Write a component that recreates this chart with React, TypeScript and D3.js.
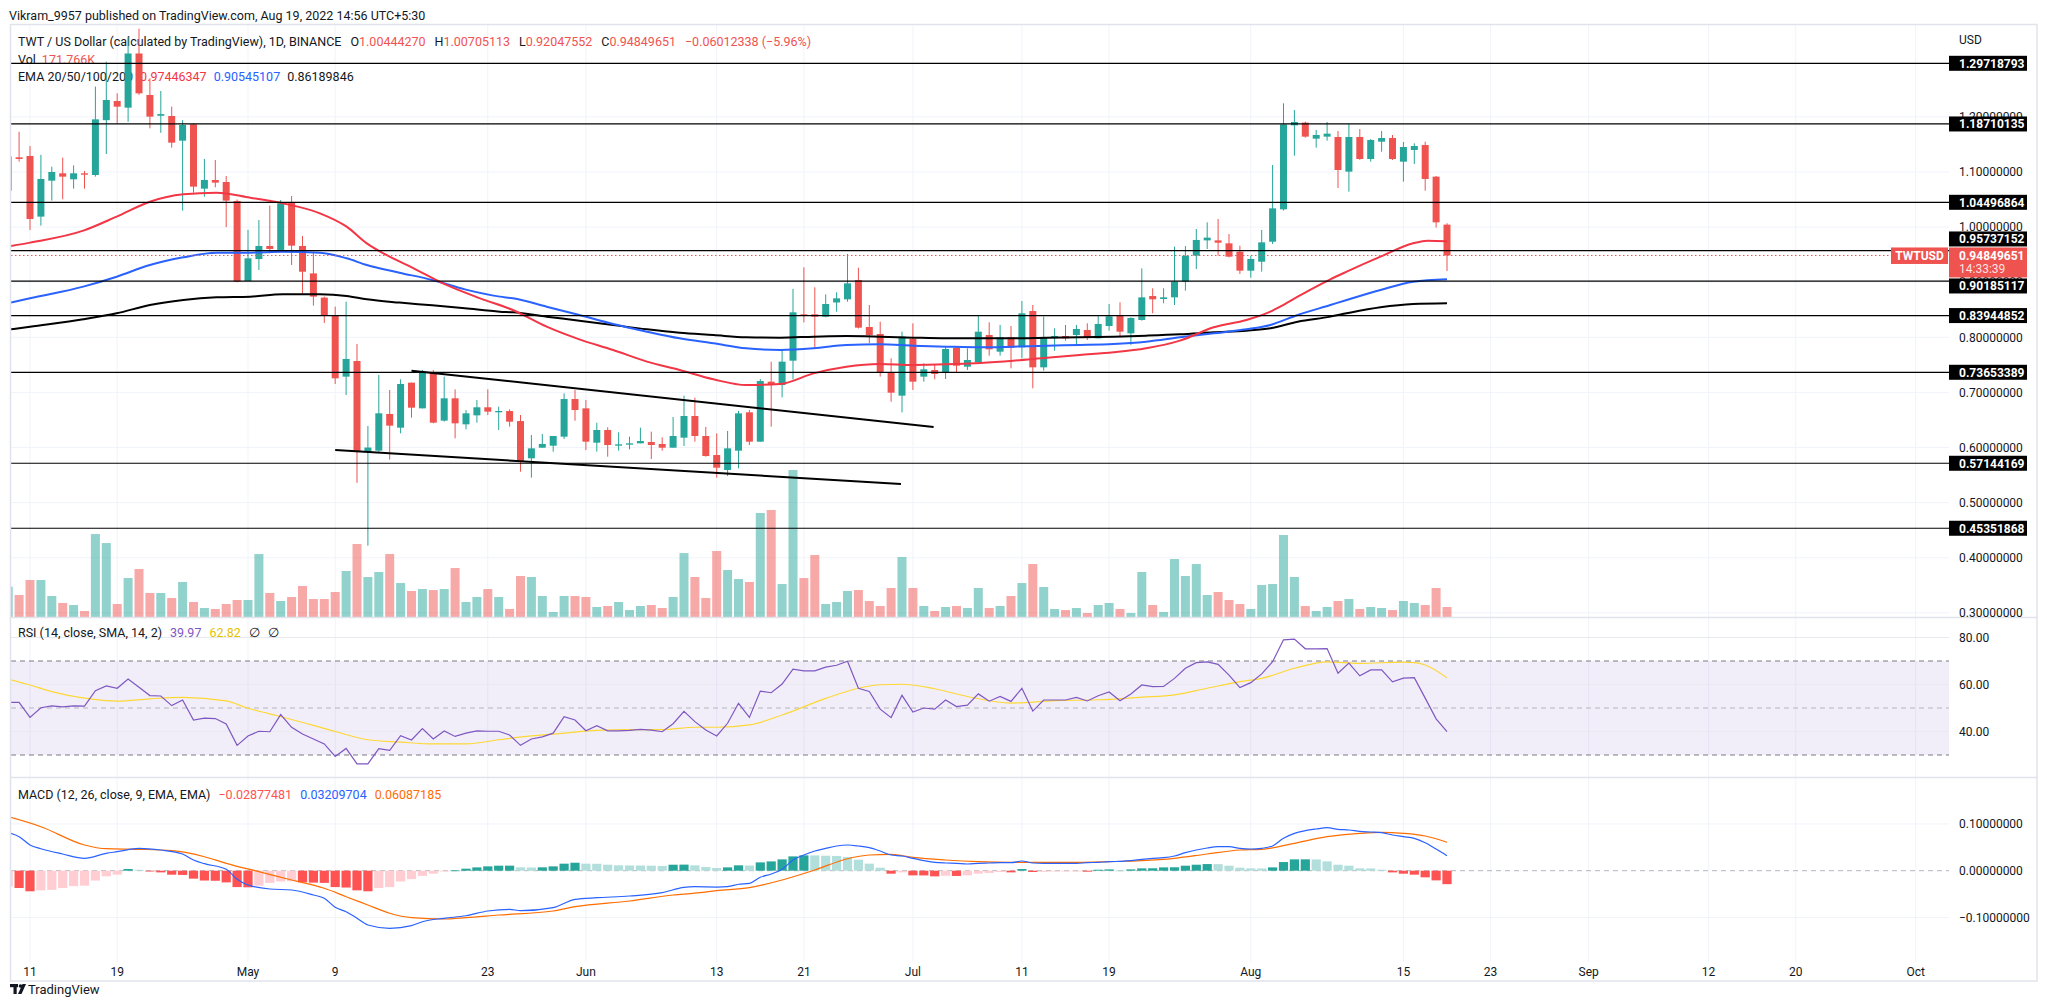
import React from "react";
import * as d3 from "d3";

// ---------------- DATA ----------------
// daily candles TWT/USD, first candle 2022-04-09, last 2022-08-19
const firstCandleDate = "2022-04-09";
const candleOpen = [
  1.066, 1.1266, 1.129, 1.019, 1.0842, 1.0976, 1.0867, 1.0976, 1.0945, 1.194,
  1.2288, 1.2167, 1.315, 1.2397, 1.202, 1.2016, 1.1568, 1.1865, 1.0697, 1.0855,
  1.0818, 1.0474, 0.9022, 0.9421, 0.9657, 0.9585, 1.045, 0.9657, 0.916, 0.872,
  0.84, 0.7286, 0.757, 0.592, 0.5943, 0.6609, 0.636, 0.7177, 0.6711, 0.7359,
  0.6488, 0.6893, 0.6421, 0.6584, 0.673, 0.6639, 0.6662, 0.648, 0.5804, 0.5997,
  0.6033, 0.6197, 0.688, 0.6711, 0.6088, 0.6318, 0.6034, 0.6052, 0.6076, 0.61,
  0.6064, 0.5997, 0.6179, 0.6572, 0.6209, 0.5864, 0.5592, 0.5943, 0.6639, 0.6106,
  0.7195, 0.7134, 0.7576, 0.8417, 0.8417, 0.8375, 0.8632, 0.8689, 0.904, 0.8187,
  0.806, 0.7364, 0.6941, 0.7969, 0.7286, 0.7407, 0.7358, 0.7812, 0.7467, 0.7546,
  0.8042, 0.7739, 0.8, 0.7818, 0.8477, 0.7455, 0.7999, 0.8024, 0.8042, 0.8133,
  0.7981, 0.8205, 0.8399, 0.8072, 0.8314, 0.8749, 0.8695, 0.8725, 0.901, 0.9481,
  0.9759, 0.9759, 0.9705, 0.9554, 0.9209, 0.9372, 0.9735, 1.0322, 1.1846, 1.1895,
  1.1604, 1.1641, 1.1635, 1.1006, 1.1635, 1.1235, 1.155, 1.1616, 1.1187, 1.1399,
  1.1489, 1.0915, 1.0044427,
];
const candleHigh = [
  1.13, 1.173, 1.147, 1.131, 1.1096, 1.126, 1.112, 1.1018, 1.255, 1.3,
  1.2427, 1.345, 1.36, 1.27, 1.247, 1.2185, 1.194, 1.1883, 1.1236, 1.1217,
  1.0927, 1.05, 0.995, 1.0129, 1.039, 1.0492, 1.0564, 0.9839, 0.9554, 0.874,
  0.8556, 0.8647, 0.788, 0.639, 0.7316, 0.7044, 0.7238, 0.7177, 0.7407, 0.7407,
  0.7286, 0.7056, 0.6681, 0.6862, 0.7056, 0.6742, 0.6693, 0.659, 0.6227, 0.6246,
  0.6209, 0.6983, 0.7044, 0.6862, 0.645, 0.6367, 0.6276, 0.6197, 0.636, 0.6288,
  0.6185, 0.6554, 0.6941, 0.6905, 0.6373, 0.6257, 0.63, 0.6663, 0.6681, 0.7243,
  0.7558, 0.777, 0.8877, 0.927, 0.8907, 0.878, 0.8816, 0.9512, 0.9263, 0.8586,
  0.8284, 0.7618, 0.8102, 0.8254, 0.7528, 0.7497, 0.783, 0.783, 0.78, 0.8387,
  0.8272, 0.8224, 0.8205, 0.8659, 0.8586, 0.8375, 0.8163, 0.8224, 0.8224, 0.8254,
  0.8387, 0.8604, 0.8635, 0.8363, 0.9251, 0.8889, 0.8889, 0.9645, 0.9657, 0.9965,
  1.0086, 1.0147, 0.9874, 0.9663, 0.9481, 0.9947, 1.1127, 1.2246, 1.2125, 1.1913,
  1.1762, 1.1907, 1.1744, 1.187, 1.178, 1.1598, 1.1744, 1.1671, 1.1544, 1.152,
  1.155, 1.0927, 1.00705113,
];
const candleLow = [
  1.06, 1.1187, 0.9947, 1.0026, 1.048, 1.0504, 1.0697, 1.0697, 1.0915, 1.1326,
  1.1883, 1.191, 1.24, 1.1792, 1.171, 1.1441, 1.0298, 1.0625, 1.0552, 1.0721,
  1.0, 0.9, 0.9022, 0.9222, 0.9524, 0.9554, 0.9312, 0.8798, 0.8574, 0.826,
  0.7153, 0.6953, 0.536, 0.422, 0.59, 0.578, 0.6258, 0.6542, 0.671, 0.6439,
  0.647, 0.6167, 0.633, 0.6451, 0.659, 0.6318, 0.6379, 0.5562, 0.5453, 0.5997,
  0.5925, 0.6155, 0.6487, 0.5955, 0.5925, 0.5834, 0.5943, 0.5967, 0.6076, 0.5792,
  0.5943, 0.5997, 0.6028, 0.6106, 0.5835, 0.5453, 0.5483, 0.5622, 0.6046, 0.6106,
  0.6378, 0.6911, 0.7237, 0.8272, 0.78, 0.8362, 0.8465, 0.8647, 0.816, 0.7891,
  0.7286, 0.6832, 0.6638, 0.7044, 0.7195, 0.7238, 0.7243, 0.7358, 0.7407, 0.7528,
  0.7667, 0.7667, 0.7437, 0.7618, 0.7074, 0.7395, 0.7757, 0.7939, 0.786, 0.7951,
  0.7981, 0.812, 0.8, 0.786, 0.8302, 0.8435, 0.8617, 0.8586, 0.8846, 0.9239,
  0.9602, 0.9481, 0.945, 0.9149, 0.9082, 0.9191, 0.9693, 1.03, 1.1296, 1.1623,
  1.1441, 1.1568, 1.0709, 1.0643, 1.122, 1.1187, 1.1368, 1.1217, 1.0824, 1.1145,
  1.0661, 0.999, 0.92047552,
];
const candleClose = [
  1.128, 1.1236, 1.0147, 1.0873, 1.1, 1.0915, 1.0976, 1.0951, 1.1955, 1.2306,
  1.2185, 1.315, 1.2427, 1.2004, 1.205, 1.1532, 1.1853, 1.0734, 1.0855, 1.0806,
  1.048, 0.901, 0.9433, 0.9657, 0.9603, 1.0431, 0.9663, 0.919, 0.8738, 0.8387,
  0.7256, 0.7607, 0.5925, 0.6, 0.6621, 0.6397, 0.7153, 0.6723, 0.7359, 0.6451,
  0.6893, 0.6439, 0.6621, 0.673, 0.6651, 0.6663, 0.6469, 0.5755, 0.5985, 0.6064,
  0.6209, 0.688, 0.6681, 0.6106, 0.6318, 0.6046, 0.6058, 0.6076, 0.6118, 0.6046,
  0.5997, 0.6209, 0.6572, 0.6209, 0.5846, 0.5634, 0.5985, 0.662, 0.6106, 0.7207,
  0.7134, 0.7558, 0.8453, 0.8386, 0.8375, 0.8604, 0.8707, 0.8979, 0.8175, 0.8042,
  0.7358, 0.6995, 0.8012, 0.7195, 0.7419, 0.7334, 0.7788, 0.7485, 0.7588, 0.8102,
  0.7782, 0.8, 0.7812, 0.8435, 0.7455, 0.8, 0.8024, 0.7981, 0.8151, 0.7999,
  0.8242, 0.8381, 0.8102, 0.8351, 0.8725, 0.8689, 0.8725, 0.901, 0.9481, 0.9766,
  0.9808, 0.9717, 0.9463, 0.9209, 0.9421, 0.9723, 1.034, 1.1864, 1.1907, 1.1641,
  1.1671, 1.1695, 1.1036, 1.1635, 1.1235, 1.158, 1.1616, 1.1235, 1.1453, 1.1471,
  1.0873, 1.00861989, 0.94849651,
];
// volume in thousands
const volumeK = [
  521, 378, 636, 636, 361, 241, 206, 103, 1427, 1272,
  223, 670, 825, 413, 413, 327, 602, 258, 155, 138,
  223, 292, 292, 1083, 413, 275, 344, 533, 309, 309,
  430, 791, 1255, 688, 774, 1083, 584, 447, 481, 464,
  481, 842, 258, 344, 481, 344, 138, 705, 688, 361,
  86, 361, 361, 344, 172, 189, 258, 120, 189, 206,
  155, 344, 1100, 688, 327, 1135, 808, 653, 602, 1789,
  1840, 567, 2528, 670, 1066, 223, 258, 447, 464, 275,
  189, 499, 1031, 499, 189, 103, 172, 189, 155, 499,
  155, 189, 361, 584, 911, 516, 138, 120, 155, 69,
  206, 241, 138, 69, 774, 206, 86, 997, 705, 911,
  378, 430, 292, 223, 138, 550, 567, 1410, 688, 189,
  103, 172, 275, 309, 138, 172, 155, 120, 275, 241,
  206, 499, 171.766,
];

// EMA lines: day offsets counted from 2022-04-11
const emaBaseDate = "2022-04-11";
const ema20Days = [-1.74, 0, 4.89, 7.95, 11, 14.07, 17.1, 20.2, 23.2, 26.6, 29.05, 30.9, 32.7, 35.2, 38.2, 41.3, 44.3, 47.4, 50.4, 53.5, 56.6, 59.6, 62.7, 65.7, 68.8, 71.9, 74.9, 78, 81, 84.1, 87.2, 90.2, 93.3, 96.3, 99.4, 102.4, 105.5, 108.6, 111.6, 113.8, 114.7, 116.3, 117.7, 119.3, 120.8, 123.9, 126.9, 128.2, 130];
const ema20Vals = [0.9657, 0.9718, 0.9935, 1.019, 1.046, 1.0594, 1.0625, 1.0534, 1.0431, 1.025, 1.0008, 0.9705, 0.9494, 0.9252, 0.895, 0.8707, 0.8495, 0.8193, 0.7963, 0.777, 0.7558, 0.7407, 0.7238, 0.7134, 0.7153, 0.7346, 0.7467, 0.7516, 0.7497, 0.7509, 0.7535, 0.7576, 0.763, 0.7679, 0.7727, 0.78, 0.7939, 0.8181, 0.8314, 0.8465, 0.8556, 0.8737, 0.8889, 0.9052, 0.9191, 0.9463, 0.9705, 0.9754, 0.97446347];
const ema50Days = [-1.74, 0, 4.89, 7.95, 11, 14.07, 17.1, 20.2, 23.2, 26.6, 29.05, 30.9, 33.9, 36.9, 39.9, 43.1, 44.3, 47.4, 50.4, 53.5, 56.6, 59.6, 62.7, 65.7, 68.8, 71.9, 74.9, 78, 81, 84.1, 87.2, 90.2, 93.3, 96.3, 99.4, 102.4, 105.5, 108.6, 111.6, 113.8, 116.3, 119.3, 120.8, 123.9, 126.9, 130];
const ema50Vals = [0.863, 0.8708, 0.892, 0.91, 0.9312, 0.9451, 0.9536, 0.9536, 0.9554, 0.9536, 0.9433, 0.9312, 0.9173, 0.904, 0.887, 0.8738, 0.8707, 0.8556, 0.8405, 0.8241, 0.8102, 0.7981, 0.7891, 0.78, 0.777, 0.78, 0.786, 0.7872, 0.7848, 0.783, 0.7818, 0.783, 0.7848, 0.786, 0.7878, 0.7921, 0.7999, 0.8072, 0.8145, 0.8224, 0.8405, 0.8586, 0.8677, 0.8858, 0.901, 0.90545107];
const ema100Days = [-1.74, 0, 4.89, 7.95, 11, 14.07, 17.1, 20.2, 23.2, 26.6, 29.05, 30.9, 33.9, 36.9, 39.9, 43.1, 44.3, 47.4, 50.4, 53.5, 56.6, 59.6, 62.7, 65.7, 68.8, 71.9, 74.9, 78, 81, 84.1, 87.2, 90.2, 93.3, 96.3, 99.4, 102.4, 105.5, 108.6, 111.6, 113.8, 116.3, 119.3, 120.8, 123.9, 126.9, 130];
const ema100Vals = [0.8145, 0.8193, 0.8326, 0.8435, 0.8587, 0.8677, 0.8725, 0.8738, 0.878, 0.878, 0.875, 0.869, 0.863, 0.858, 0.8526, 0.8465, 0.8453, 0.8375, 0.8302, 0.8223, 0.8145, 0.8084, 0.8042, 0.8, 0.7994, 0.8012, 0.8024, 0.8012, 0.7994, 0.7981, 0.7981, 0.7981, 0.7993, 0.7999, 0.8012, 0.803, 0.8054, 0.809, 0.812, 0.8163, 0.8284, 0.8375, 0.8435, 0.8544, 0.8604, 0.86189846];

// drawn levels and trend lines
const supportLevels = [1.29718793, 1.18710135, 1.04496864, 0.95737152, 0.90185117, 0.83944852, 0.73653389, 0.57144169, 0.45351868];
const trendUpperDays = [35, 82.9];
const trendUpperPrices = [0.7394, 0.6372];
const trendLowerDays = [28, 79.9];
const trendLowerPrices = [0.5955, 0.5338];

// RSI (one per candle) and its SMA (sparse points, day offsets)
const rsiValues = [
  52.4, 52.4, 46.0, 50.1, 50.9, 50.5, 50.9, 50.8, 57.4, 59.4,
  58.4, 62.3, 58.8, 55.3, 55.1, 51.0, 53.4, 44.9, 45.7, 45.5,
  43.2, 34.1, 38.1, 40.1, 39.9, 47.2, 41.8, 38.9, 36.8, 34.7,
  29.4, 32.8, 26.2, 26.2, 32.7, 32.0, 38.2, 36.4, 41.2, 36.8,
  40.2, 37.9, 39.3, 40.3, 40.1, 40.1, 38.5, 34.1, 36.8, 37.7,
  39.3, 46.3, 44.9, 40.3, 42.5, 40.3, 40.3, 40.5, 40.9, 40.6,
  39.9, 43.3, 48.6, 44.2, 40.6, 38.1, 43.5, 52.0, 46.0, 57.2,
  56.5, 60.2, 66.5, 65.8, 65.8, 67.4, 68.2, 69.9, 58.4, 57.0,
  49.5, 45.9, 55.4, 48.3, 50.0, 49.5, 53.4, 50.6, 51.2, 56.0,
  52.9, 54.9, 52.8, 58.4, 48.7, 53.4, 53.4, 53.4, 54.5, 53.0,
  55.2, 56.8, 53.1, 56.0, 59.8, 59.1, 59.2, 62.6, 66.9, 69.3,
  69.6, 68.6, 64.0, 58.7, 60.8, 64.5, 69.7, 79.0, 79.3, 75.2,
  75.2, 75.3, 64.8, 69.1, 63.7, 66.2, 66.2, 61.1, 62.7, 62.9,
  54.2, 45.4, 39.97,
];
const rsiSmaDays = [-2, 0, 2, 5, 8, 11, 14, 18, 20, 22, 26, 28, 31, 34, 37, 40, 43, 46, 49, 52, 55, 58, 61, 63, 66, 69, 73, 76, 78, 80, 83, 86, 90, 94, 98, 102, 105, 108, 111, 113, 116, 119, 122, 126, 127, 128, 130];
const rsiSmaVals = [62.3, 59.8, 57.0, 54.2, 52.9, 53.9, 54.5, 53.0, 49.9, 47.5, 42.6, 40.0, 36.5, 35.5, 34.7, 34.7, 36.5, 38.1, 39.3, 40.5, 40.8, 40.8, 41.8, 41.8, 42.8, 47.0, 54.1, 58.4, 59.9, 60.1, 58.2, 54.9, 52.1, 53.1, 53.5, 54.6, 55.6, 58.4, 61.2, 62.6, 66.9, 69.6, 69.0, 69.5, 69.3, 68.3, 62.82];

// MACD
const macdHist = [
  -0.034, -0.037, -0.044, -0.042, -0.041, -0.037, -0.033, -0.032, -0.021, -0.012,
  -0.0085, 0.0036, 0.002, -0.0014, -0.0036, -0.0085, -0.009, -0.017, -0.021, -0.0215,
  -0.025, -0.035, -0.0355, -0.032, -0.026, -0.023, -0.0225, -0.025, -0.0255, -0.026,
  -0.035, -0.036, -0.042, -0.044, -0.037, -0.035, -0.023, -0.018, -0.011, -0.0064,
  -0.0014, 0.0007, 0.0043, 0.0071, 0.0093, 0.0107, 0.0108, 0.0071, 0.0068, 0.0072,
  0.0093, 0.015, 0.017, 0.015, 0.0148, 0.0128, 0.0114, 0.0112, 0.011, 0.0107,
  0.01, 0.0128, 0.013, 0.0114, 0.0078, 0.0057, 0.0071, 0.0115, 0.011, 0.0178,
  0.0199, 0.0242, 0.0306, 0.0328, 0.0327, 0.032, 0.0315, 0.0292, 0.0235, 0.015,
  0.0064, -0.0064, -0.0036, -0.01, -0.0101, -0.0121, -0.0107, -0.0112, -0.01, -0.0064,
  -0.005, -0.0028, -0.0036, 0.0036, -0.0028, -0.0025, -0.0014, -0.0007, -0.0005, -0.0021,
  0.0021, 0.0028, 0.0005, 0.0028, 0.005, 0.0052, 0.0071, 0.0073, 0.0107, 0.0128,
  0.0142, 0.014, 0.0107, 0.0064, 0.005, 0.0048, 0.0071, 0.0185, 0.0242, 0.0243,
  0.024, 0.0199, 0.0128, 0.0107, 0.005, 0.0048, 0.0021, -0.0036, -0.0064, -0.0085,
  -0.0142, -0.0207, -0.02877481,
];
const macdDays = [-2, -1, 0, 1, 3, 5, 7, 8, 10, 12, 14, 15, 16, 18, 19, 20, 22, 24, 26, 27, 28, 29, 30, 31, 33, 35, 36, 38, 40, 42, 44, 45, 48, 50, 52, 55, 58, 60, 61, 63, 64, 65, 66, 67, 68, 69, 70, 71, 72, 73, 74, 75, 76, 77, 78, 79, 80, 81, 82, 83, 84, 85, 86, 87, 88, 89, 90, 91, 92, 93, 94, 95, 96, 97, 98, 99, 100, 101, 102, 103, 104, 105, 106, 107, 108, 109, 110, 111, 112, 113, 114, 115, 116, 117, 118, 119, 120, 121, 122, 123, 124, 125, 126, 127, 128, 129, 130];
const macdVals = [0.0812, 0.0727, 0.055, 0.047, 0.0357, 0.0265, 0.0372, 0.0406, 0.0478, 0.0442, 0.0357, 0.0229, 0.015, 0.003, -0.0184, -0.0306, -0.0391, -0.0412, -0.0519, -0.059, -0.0782, -0.0876, -0.1017, -0.116, -0.1231, -0.1175, -0.109, -0.1017, -0.0962, -0.0861, -0.0825, -0.0855, -0.079, -0.0611, -0.0577, -0.0541, -0.047, -0.0355, -0.0342, -0.0349, -0.034, -0.029, -0.027, -0.014, -0.007, 0.003, 0.0229, 0.0335, 0.042, 0.0478, 0.0528, 0.0549, 0.0528, 0.0492, 0.042, 0.0335, 0.0314, 0.0265, 0.0214, 0.0179, 0.0164, 0.0157, 0.0143, 0.0157, 0.0164, 0.0171, 0.0171, 0.0207, 0.0164, 0.0157, 0.0157, 0.0157, 0.0157, 0.0171, 0.0179, 0.0193, 0.02, 0.0214, 0.0243, 0.0265, 0.0278, 0.0314, 0.0385, 0.0442, 0.0485, 0.0513, 0.0513, 0.0478, 0.0464, 0.0478, 0.0528, 0.0692, 0.0798, 0.0855, 0.0891, 0.0919, 0.0884, 0.087, 0.0841, 0.0827, 0.0812, 0.0763, 0.0727, 0.0692, 0.0598, 0.0464, 0.03209704];
const signalDays = [-2, 1, 5, 7, 10, 13, 16, 18, 21, 24, 27, 29, 31, 33, 35, 38, 40, 43, 48, 50, 55, 59, 61, 63, 66, 69, 72, 75, 77, 79, 81, 84, 87, 90, 93, 96, 99, 102, 105, 108, 111, 113, 116, 119, 122, 124, 126, 128, 130];
const signalVals = [0.1154, 0.094, 0.055, 0.047, 0.0457, 0.0427, 0.0299, 0.0158, -0.002, -0.0199, -0.0376, -0.0556, -0.0733, -0.091, -0.1004, -0.1032, -0.1004, -0.0947, -0.0861, -0.0769, -0.0647, -0.0519, -0.048, -0.0427, -0.0363, -0.0199, 0.0015, 0.0256, 0.0335, 0.035, 0.0286, 0.0229, 0.0193, 0.0179, 0.0179, 0.0179, 0.0193, 0.0214, 0.0265, 0.0357, 0.0442, 0.0457, 0.0585, 0.0727, 0.0798, 0.082, 0.0798, 0.0741, 0.06087185];

// axes
const priceTicks = [0.3, 0.4, 0.5, 0.6, 0.7, 0.8, 0.9, 1.0, 1.1, 1.2];
const rsiTicks = [40, 60, 80];
const rsiBands = [30, 50, 70];
const macdTicks = [-0.1, 0.1];
const timeTicks = ["2022-04-11", "2022-04-19", "2022-05-01", "2022-05-09", "2022-05-23", "2022-06-01", "2022-06-13", "2022-06-21", "2022-07-01", "2022-07-11", "2022-07-19", "2022-08-01", "2022-08-15", "2022-08-23", "2022-09-01", "2022-09-12", "2022-09-20", "2022-10-01"];
const countdown = "14:33:39";

// ---------------- LAYOUT ----------------
const W = 2047, H = 1006;
const PL = 11, PR = 1949, FR = 2037;
const PT = 25, PB = 617, RT = 618, RB = 777, MT = 778, MB = 962, FB = 981;
const DAY = 86400000;
const DARK = "#131722";
const TEAL = "#26a69a";
const RED = "#ef5350";
const FONT = "Roboto, 'Noto Sans', sans-serif";

const x = d3.scaleUtc().domain([new Date("2022-04-11"), new Date("2022-10-01")]).range([30, 1915.7]);
const py = d3.scaleLinear().domain([0.3, 1.3]).range([612.86, 61.75]);
const vy = d3.scaleLinear().domain([0, 10000]).range([PB, PB - 10000 / 17.2]);
const ry = d3.scaleLinear().domain([30, 70]).range([755, 661]);
const my = d3.scaleLinear().domain([-0.1, 0.1]).range([917.5, 823.9]);

const base = new Date(emaBaseDate).getTime();
const first = new Date(firstCandleDate).getTime();
const dayX = (d: number) => x(new Date(base + d * DAY));
const idxX = (i: number) => x(new Date(first + i * DAY));

const candles = candleOpen.map((o, i) => ({ i, o, h: candleHigh[i], l: candleLow[i], c: candleClose[i], v: volumeK[i] }));

const mkLine = (days: number[], vals: number[], yS: any, curve = d3.curveMonotoneX) =>
  d3.line<number>().x((_, k) => dayX(days[k])).y((v) => yS(v)).curve(curve)(vals) || "";

const rsiPath = d3.line<number>().x((_, i) => idxX(i)).y((v) => ry(v))(rsiValues) || "";

function histColor(i: number) {
  const v = macdHist[i];
  const p = i > 0 ? macdHist[i - 1] : v;
  if (v >= 0) return v > p ? "#26a69a" : "#b2dfdb";
  return v < p ? "#ff5252" : "#ffcdd2";
}

const fmt8 = (v: number) => (v < 0 ? "\u2212" : "") + Math.abs(v).toFixed(8);
const fmtTime = (d: Date) => (d.getUTCDate() === 1 ? d3.utcFormat("%b")(d) : d3.utcFormat("%-d")(d));

export default function App() {
  const last = candles[candles.length - 1];
  const prev = candles[candles.length - 2];
  const chg = last.c - prev.c;
  const chgPct = (chg / prev.c) * 100;
  const lastY = py(last.c);
  const cpTop = lastY - 8, cpBot = lastY + 22;
  const levelLabels = supportLevels.map((lv) => {
    let c = py(lv);
    if (c + 7.5 > cpTop && c - 7.5 < cpBot) c = c < lastY ? cpTop - 8.5 : cpBot + 8.5;
    return { lv, c };
  });
  const bw = 7;
  return (
    <svg width={W} height={H} style={{ position: "absolute", left: 0, top: 0, background: "#fff" }} fontFamily={FONT}>
      <defs>
        <clipPath id="cp"><rect x={PL} y={PT} width={PR - PL} height={PB - PT} /></clipPath>
        <clipPath id="cr"><rect x={PL} y={RT} width={PR - PL} height={RB - RT} /></clipPath>
        <clipPath id="cm"><rect x={PL} y={MT} width={PR - PL} height={MB - MT} /></clipPath>
      </defs>
      <rect x={0} y={0} width={W} height={H} fill="#fff" />
      <text x={9} y={19.5} fontSize={12.5} fill={DARK}>Vikram_9957 published on TradingView.com, Aug 19, 2022 14:56 UTC+5:30</text>

      {/* grid */}
      {timeTicks.map((t) => (
        <line key={t} x1={x(new Date(t))} x2={x(new Date(t))} y1={PT} y2={MB} stroke="#f0f3fa" />
      ))}
      {priceTicks.map((p) => (
        <line key={p} x1={PL} x2={PR} y1={py(p)} y2={py(p)} stroke="#f0f3fa" />
      ))}
      <rect x={PL} y={ry(70)} width={PR - PL} height={ry(30) - ry(70)} fill="rgba(126,87,194,0.1)" />
      {rsiTicks.map((r) => (
        <line key={r} x1={PL} x2={PR} y1={ry(r)} y2={ry(r)} stroke="#e9e9f0" />
      ))}
      {rsiBands.map((r) => (
        <line key={r} x1={PL} x2={PR} y1={ry(r)} y2={ry(r)} stroke={r === 50 ? "#b2b5be" : "#787b86"} strokeDasharray="5,4" />
      ))}
      {macdTicks.map((m) => (
        <line key={m} x1={PL} x2={PR} y1={my(m)} y2={my(m)} stroke="#f0f3fa" />
      ))}
      <line x1={PL} x2={PR} y1={my(0)} y2={my(0)} stroke="#b2b5be" strokeDasharray="5,4" />

      {/* price pane */}
      <g clipPath="url(#cp)">
        {candles.map((d) => (
          <rect key={"v" + d.i} x={idxX(d.i) - 4.5} y={vy(d.v)} width={9} height={PB - vy(d.v)}
            fill={d.c >= d.o ? "rgba(38,166,154,0.5)" : "rgba(239,83,80,0.5)"} />
        ))}
        <text x={18} y={46} fontSize={12.5} fill={DARK}>
          <tspan>TWT / US Dollar (calculated by TradingView), 1D, BINANCE</tspan>
          <tspan dx={9}>O</tspan><tspan fill={RED}>{last.o.toFixed(8)}</tspan>
          <tspan dx={9}>H</tspan><tspan fill={RED}>{last.h.toFixed(8)}</tspan>
          <tspan dx={9}>L</tspan><tspan fill={RED}>{last.l.toFixed(8)}</tspan>
          <tspan dx={9}>C</tspan><tspan fill={RED}>{last.c.toFixed(8)}</tspan>
          <tspan dx={9} fill={RED}>{fmt8(chg)} ({"\u2212" + Math.abs(chgPct).toFixed(2)}%)</tspan>
        </text>
        <text x={18} y={64} fontSize={12.5} fill={DARK}>
          <tspan>Vol</tspan><tspan dx={6} fill={RED}>{last.v.toFixed(3)}K</tspan>
        </text>
        <text x={18} y={80.5} fontSize={12.5} fill={DARK}>
          <tspan>EMA 20/50/100/200</tspan>
          <tspan dx={7} fill="#f23645">{ema20Vals[ema20Vals.length - 1].toFixed(8)}</tspan>
          <tspan dx={7} fill="#2962ff">{ema50Vals[ema50Vals.length - 1].toFixed(8)}</tspan>
          <tspan dx={7} fill={DARK}>{ema100Vals[ema100Vals.length - 1].toFixed(8)}</tspan>
        </text>
        {candles.map((d) => {
          const col = d.c >= d.o ? TEAL : RED;
          const cx = idxX(d.i);
          const top = py(Math.max(d.o, d.c));
          const bot = py(Math.min(d.o, d.c));
          return (
            <g key={"c" + d.i}>
              <line x1={cx} x2={cx} y1={py(d.h)} y2={py(d.l)} stroke={col} strokeWidth={1} />
              <rect x={cx - bw / 2} y={top} width={bw} height={Math.max(1, bot - top)} fill={col} />
            </g>
          );
        })}
        <path d={mkLine(ema100Days, ema100Vals, py)} fill="none" stroke="#000" strokeWidth={2} />
        <path d={mkLine(ema50Days, ema50Vals, py)} fill="none" stroke="#2962ff" strokeWidth={2} />
        <path d={mkLine(ema20Days, ema20Vals, py)} fill="none" stroke="#f23645" strokeWidth={2} />
        {supportLevels.map((lv) => (
          <line key={lv} x1={PL} x2={PR} y1={py(lv)} y2={py(lv)} stroke="#000" strokeWidth={1.2} />
        ))}
        <path d={mkLine(trendUpperDays, trendUpperPrices, py, d3.curveLinear)} stroke="#000" strokeWidth={2} fill="none" />
        <path d={mkLine(trendLowerDays, trendLowerPrices, py, d3.curveLinear)} stroke="#000" strokeWidth={2} fill="none" />
        <line x1={PL} x2={1891} y1={lastY} y2={lastY} stroke={RED} strokeDasharray="1.5,2.5" />
      </g>

      {/* RSI pane */}
      <g clipPath="url(#cr)">
        <path d={mkLine(rsiSmaDays, rsiSmaVals, ry)} fill="none" stroke="#fdd835" strokeWidth={1.2} />
        <path d={rsiPath} fill="none" stroke="#7e57c2" strokeWidth={1.2} />
      </g>
      <text x={18} y={636.5} fontSize={12.5} fill={DARK}>
        <tspan>RSI (14, close, SMA, 14, 2)</tspan>
        <tspan dx={8} fill="#7e57c2">{rsiValues[rsiValues.length - 1].toFixed(2)}</tspan>
        <tspan dx={8} fill="#e6c200">{rsiSmaVals[rsiSmaVals.length - 1].toFixed(2)}</tspan>
        <tspan dx={8}>∅</tspan>
        <tspan dx={8}>∅</tspan>
      </text>

      {/* MACD pane */}
      <g clipPath="url(#cm)">
        {macdHist.map((v, i) => (
          <rect key={"h" + i} x={idxX(i) - 4.6} y={Math.min(my(v), my(0))} width={9.2}
            height={Math.max(0.8, Math.abs(my(v) - my(0)))} fill={histColor(i)} />
        ))}
        <path d={mkLine(signalDays, signalVals, my)} fill="none" stroke="#ff6d00" strokeWidth={1.2} />
        <path d={mkLine(macdDays, macdVals, my)} fill="none" stroke="#2962ff" strokeWidth={1.2} />
      </g>
      <text x={18} y={798.5} fontSize={12.5} fill={DARK}>
        <tspan>MACD (12, 26, close, 9, EMA, EMA)</tspan>
        <tspan dx={8} fill="#ff5252">{fmt8(macdHist[macdHist.length - 1])}</tspan>
        <tspan dx={8} fill="#2962ff">{fmt8(macdVals[macdVals.length - 1])}</tspan>
        <tspan dx={8} fill="#ff6d00">{fmt8(signalVals[signalVals.length - 1])}</tspan>
      </text>

      {/* frame & separators */}
      <rect x={10.5} y={PT - 0.5} width={FR - 10.5} height={FB - PT + 0.5} fill="none" stroke="#e0e3eb" strokeWidth={1.5} />
      <line x1={10.5} x2={FR} y1={617.5} y2={617.5} stroke="#e0e3eb" strokeWidth={1.5} />
      <line x1={10.5} x2={FR} y1={777.5} y2={777.5} stroke="#e0e3eb" strokeWidth={1.5} />

      {/* price axis */}
      <text x={1959} y={44} fontSize={12} fill={DARK}>USD</text>
      {priceTicks.map((p) => (
        <text key={p} x={1959} y={py(p) + 4.3} fontSize={12} fill={DARK}>{p.toFixed(8)}</text>
      ))}
      {levelLabels.map(({ lv, c }) => (
        <g key={lv}>
          <rect x={PR} y={c - 7.5} width={78} height={15} fill="#000" />
          <text x={1959} y={c + 4.3} fontSize={12} fontWeight="bold" fill="#fff">{lv.toFixed(8)}</text>
        </g>
      ))}
      <rect x={PR} y={cpTop} width={78} height={cpBot - cpTop} fill={RED} />
      <text x={1959} y={lastY + 4.3} fontSize={12} fontWeight="bold" fill="#fff">{last.c.toFixed(8)}</text>
      <text x={1959} y={lastY + 18} fontSize={12} fill="rgba(255,255,255,0.85)">{countdown}</text>
      <rect x={1891} y={lastY - 8} width={57} height={16.5} fill={RED} />
      <text x={1919.5} y={lastY + 4.3} fontSize={12} fontWeight="bold" fill="#fff" textAnchor="middle">TWTUSD</text>

      {rsiTicks.map((r) => (
        <text key={r} x={1959} y={ry(r) + 4.3} fontSize={12} fill={DARK}>{r.toFixed(2)}</text>
      ))}
      {[-0.1, 0, 0.1].map((m) => (
        <text key={m} x={1959} y={my(m) + 4.3} fontSize={12} fill={DARK}>{fmt8(m)}</text>
      ))}

      {/* time axis */}
      {timeTicks.map((t) => (
        <text key={t} x={x(new Date(t))} y={976} fontSize={12} fill={DARK} textAnchor="middle">{fmtTime(new Date(t))}</text>
      ))}

      {/* footer */}
      <g fill={DARK}>
        <rect x={10} y={984} width={8} height={3.2} />
        <rect x={13.5} y={984} width={3.2} height={10} />
        <circle cx={20.5} cy={986} r={1.8} />
        <path d="M22.5 984 L26 984 L21.5 994 L18 994 Z" />
      </g>
      <text x={28} y={993.5} fontSize={13} fill={DARK}>TradingView</text>
    </svg>
  );
}
